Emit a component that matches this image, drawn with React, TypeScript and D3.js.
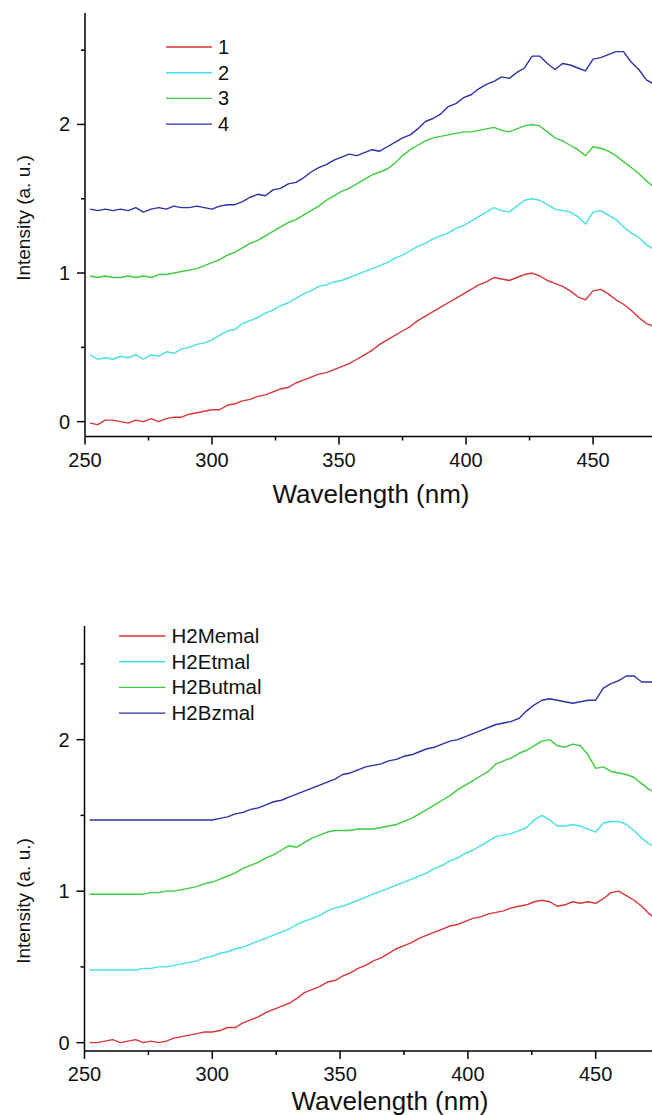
import React from "react";
import * as d3 from "d3";

// ---------- data ----------
const WAVELENGTH = [252,255,258,261,264,267,270,273,276,279,282,285,288,291,294,297,300,303,306,309,312,315,318,321,324,327,330,333,336,339,342,345,348,351,354,357,360,363,366,369,372,375,378,381,384,387,390,393,396,399,402,405,408,411,414,417,420,423,426,429,432,435,438,441,444,447,450,453,456,459,462,465,468,471,474];

const TOP_1 = [-0.01,-0.02,0.01,0.01,0.0,-0.01,0.01,0.0,0.02,0.0,0.02,0.03,0.03,0.05,0.06,0.07,0.08,0.08,0.11,0.12,0.14,0.15,0.17,0.18,0.2,0.22,0.23,0.26,0.28,0.3,0.32,0.33,0.35,0.37,0.39,0.42,0.45,0.48,0.52,0.55,0.58,0.61,0.64,0.68,0.71,0.74,0.77,0.8,0.83,0.86,0.89,0.92,0.94,0.97,0.96,0.95,0.97,0.99,1.0,0.98,0.95,0.93,0.91,0.88,0.84,0.82,0.88,0.89,0.86,0.82,0.79,0.75,0.7,0.66,0.64];
const TOP_2 = [0.45,0.42,0.43,0.42,0.44,0.43,0.45,0.42,0.45,0.44,0.47,0.46,0.49,0.5,0.52,0.53,0.55,0.58,0.61,0.62,0.66,0.68,0.7,0.73,0.75,0.78,0.8,0.83,0.86,0.88,0.91,0.92,0.94,0.95,0.97,0.99,1.01,1.03,1.05,1.07,1.1,1.12,1.15,1.18,1.2,1.23,1.25,1.27,1.3,1.32,1.35,1.38,1.41,1.44,1.42,1.41,1.45,1.49,1.5,1.49,1.46,1.43,1.42,1.41,1.38,1.33,1.41,1.42,1.39,1.36,1.31,1.27,1.24,1.19,1.16];
const TOP_3 = [0.98,0.97,0.98,0.97,0.97,0.98,0.97,0.98,0.97,0.99,0.99,1.0,1.01,1.02,1.03,1.05,1.07,1.09,1.12,1.14,1.17,1.2,1.22,1.25,1.28,1.31,1.34,1.36,1.39,1.42,1.45,1.49,1.52,1.55,1.57,1.6,1.63,1.66,1.68,1.7,1.74,1.79,1.83,1.86,1.89,1.91,1.92,1.93,1.94,1.95,1.95,1.96,1.97,1.98,1.96,1.95,1.97,1.99,2.0,1.99,1.95,1.91,1.89,1.86,1.83,1.79,1.85,1.84,1.82,1.79,1.75,1.71,1.67,1.62,1.58];
const TOP_4 = [1.43,1.42,1.43,1.42,1.43,1.42,1.44,1.41,1.43,1.44,1.43,1.45,1.44,1.44,1.45,1.44,1.43,1.45,1.46,1.46,1.48,1.51,1.53,1.52,1.56,1.57,1.6,1.61,1.64,1.68,1.71,1.73,1.76,1.78,1.8,1.79,1.81,1.83,1.82,1.85,1.88,1.91,1.93,1.97,2.02,2.04,2.07,2.12,2.14,2.18,2.2,2.24,2.27,2.29,2.32,2.31,2.35,2.38,2.46,2.46,2.41,2.37,2.41,2.4,2.38,2.36,2.44,2.45,2.47,2.49,2.49,2.42,2.37,2.3,2.27];

const BOT_MEMAL = [0.0,0.0,0.01,0.02,0.0,0.01,0.02,0.0,0.01,0.0,0.01,0.03,0.04,0.05,0.06,0.07,0.07,0.08,0.1,0.1,0.13,0.15,0.17,0.2,0.22,0.24,0.26,0.29,0.33,0.35,0.37,0.4,0.41,0.44,0.46,0.49,0.51,0.54,0.56,0.59,0.62,0.64,0.66,0.69,0.71,0.73,0.75,0.77,0.78,0.8,0.82,0.83,0.85,0.86,0.87,0.89,0.9,0.91,0.93,0.94,0.93,0.9,0.91,0.93,0.92,0.93,0.92,0.95,0.99,1.0,0.97,0.94,0.9,0.85,0.81];
const BOT_ETMAL = [0.48,0.48,0.48,0.48,0.48,0.48,0.48,0.49,0.49,0.5,0.5,0.51,0.52,0.53,0.54,0.56,0.57,0.59,0.6,0.62,0.63,0.65,0.67,0.69,0.71,0.73,0.75,0.78,0.8,0.82,0.84,0.87,0.89,0.9,0.92,0.94,0.96,0.98,1.0,1.02,1.04,1.06,1.08,1.1,1.12,1.15,1.17,1.2,1.22,1.25,1.27,1.3,1.33,1.36,1.37,1.38,1.4,1.42,1.47,1.5,1.47,1.43,1.43,1.44,1.43,1.41,1.39,1.45,1.46,1.46,1.44,1.4,1.35,1.31,1.29];
const BOT_BUTMAL = [0.98,0.98,0.98,0.98,0.98,0.98,0.98,0.98,0.99,0.99,1.0,1.0,1.01,1.02,1.03,1.05,1.06,1.08,1.1,1.12,1.15,1.17,1.19,1.22,1.24,1.27,1.3,1.29,1.32,1.35,1.37,1.39,1.4,1.4,1.4,1.41,1.41,1.41,1.42,1.43,1.44,1.46,1.48,1.51,1.54,1.57,1.6,1.63,1.67,1.7,1.73,1.76,1.79,1.84,1.86,1.88,1.91,1.93,1.96,1.99,2.0,1.96,1.95,1.97,1.96,1.9,1.81,1.82,1.79,1.78,1.77,1.75,1.71,1.67,1.65];
const BOT_BZMAL = [1.47,1.47,1.47,1.47,1.47,1.47,1.47,1.47,1.47,1.47,1.47,1.47,1.47,1.47,1.47,1.47,1.47,1.48,1.49,1.51,1.52,1.54,1.55,1.57,1.59,1.6,1.62,1.64,1.66,1.68,1.7,1.72,1.74,1.77,1.78,1.8,1.82,1.83,1.84,1.86,1.87,1.89,1.9,1.92,1.94,1.95,1.97,1.99,2.0,2.02,2.04,2.06,2.08,2.1,2.11,2.12,2.14,2.19,2.23,2.26,2.27,2.26,2.25,2.24,2.25,2.26,2.26,2.34,2.37,2.39,2.42,2.42,2.38,2.38,2.38];

const TOP_LABELS = ["1", "2", "3", "4"];
const BOT_LABELS = ["H2Memal", "H2Etmal", "H2Butmal", "H2Bzmal"];
const COLORS = ["#d8353a", "#45e0e6", "#3dcc3d", "#2f2fa8"];

const X_TICKS = [250, 300, 350, 400, 450];
const X_MINOR = [275, 325, 375, 425];
const Y_TICKS = [0, 1, 2];
const Y_MINOR = [0.5, 1.5, 2.5];

const FONT = "'Liberation Sans', Arial, sans-serif";

type PanelProps = {
  id: string;
  series: number[][];
  labels: string[];
  xRange: [number, number];
  xDomain: [number, number];
  yRange: [number, number];
  yDomain: [number, number];
  legend: { x1: number; x2: number; tx: number; y0: number; dy: number; fs: number };
  xTitle: { x: number; y: number };
  yTitle: { x: number; y: number };
  tickBaseline: number;
};

function Panel(p: PanelProps) {
  const x = d3.scaleLinear().domain(p.xDomain).range(p.xRange);
  const y = d3.scaleLinear().domain(p.yDomain).range(p.yRange);
  const line = d3
    .line<number>()
    .x((_, i) => x(WAVELENGTH[i]))
    .y((d) => y(d));
  const x0 = p.xRange[0];
  const yb = p.yRange[0];
  return (
    <g>
      <defs>
        <clipPath id={p.id}>
          <rect x={x0} y={p.yRange[1]} width={p.xRange[1] - x0} height={yb - p.yRange[1]} />
        </clipPath>
      </defs>
      <g clipPath={`url(#${p.id})`}>
        {p.series.map((s, i) => (
          <path key={i} d={line(s) || ""} fill="none" stroke={COLORS[i]} strokeWidth={1.4} strokeLinejoin="round" />
        ))}
      </g>
      {/* axes */}
      <line x1={x0} x2={x0} y1={p.yRange[1]} y2={yb} stroke="#000" strokeWidth={1.5} />
      <line x1={x0} x2={p.xRange[1]} y1={yb} y2={yb} stroke="#000" strokeWidth={1.5} />
      {X_TICKS.map((t) => (
        <g key={"xt" + t}>
          <line x1={x(t)} x2={x(t)} y1={yb} y2={yb + 8} stroke="#000" strokeWidth={1.5} />
          <text x={x(t)} y={p.tickBaseline} textAnchor="middle" fontSize={20} fontFamily={FONT} fill="#111">
            {t}
          </text>
        </g>
      ))}
      {X_MINOR.map((t) => (
        <line key={"xm" + t} x1={x(t)} x2={x(t)} y1={yb} y2={yb + 4} stroke="#000" strokeWidth={1.5} />
      ))}
      {Y_TICKS.map((t) => (
        <g key={"yt" + t}>
          <line x1={x0 - 8} x2={x0} y1={y(t)} y2={y(t)} stroke="#000" strokeWidth={1.5} />
          <text x={x0 - 15} y={y(t) + 7} textAnchor="end" fontSize={20} fontFamily={FONT} fill="#111">
            {t}
          </text>
        </g>
      ))}
      {Y_MINOR.map((t) => (
        <line key={"ym" + t} x1={x0 - 4} x2={x0} y1={y(t)} y2={y(t)} stroke="#000" strokeWidth={1.5} />
      ))}
      <text x={p.xTitle.x} y={p.xTitle.y} textAnchor="middle" fontSize={26} fontFamily={FONT} fill="#111">
        Wavelength (nm)
      </text>
      <text
        transform={`translate(${p.yTitle.x},${p.yTitle.y}) rotate(-90)`}
        textAnchor="middle"
        fontSize={19}
        fontFamily={FONT}
        fill="#111"
      >
        Intensity (a. u.)
      </text>
      {p.labels.map((lab, i) => {
        const ly = p.legend.y0 + i * p.legend.dy;
        return (
          <g key={lab}>
            <line x1={p.legend.x1} x2={p.legend.x2} y1={ly} y2={ly} stroke={COLORS[i]} strokeWidth={1.4} />
            <text x={p.legend.tx} y={ly + 7} fontSize={p.legend.fs} fontFamily={FONT} fill="#111">
              {lab}
            </text>
          </g>
        );
      })}
    </g>
  );
}

export default function App() {
  return (
    <svg
      width={652}
      height={1115}
      viewBox="0 0 652 1115"
      style={{ position: "absolute", left: 0, top: 0, background: "#fff" }}
    >
      <rect x={0} y={0} width={652} height={1115} fill="#fff" />
      <Panel
        id="clipTop"
        series={[TOP_1, TOP_2, TOP_3, TOP_4]}
        labels={TOP_LABELS}
        xRange={[85, 652]}
        xDomain={[250, 473.2]}
        yRange={[436.5, 13]}
        yDomain={[-0.1, 2.75]}
        legend={{ x1: 166, x2: 212, tx: 218, y0: 47, dy: 25.7, fs: 20 }}
        xTitle={{ x: 371, y: 503 }}
        yTitle={{ x: 30, y: 218 }}
        tickBaseline={467}
      />
      <Panel
        id="clipBot"
        series={[BOT_MEMAL, BOT_ETMAL, BOT_BUTMAL, BOT_BZMAL]}
        labels={BOT_LABELS}
        xRange={[84.5, 652]}
        xDomain={[250, 472.03]}
        yRange={[1051, 626]}
        yDomain={[-0.055, 2.75]}
        legend={{ x1: 119, x2: 165.5, tx: 171.5, y0: 636, dy: 25.7, fs: 20.5 }}
        xTitle={{ x: 390, y: 1109.5 }}
        yTitle={{ x: 30, y: 901 }}
        tickBaseline={1080.5}
      />
    </svg>
  );
}
